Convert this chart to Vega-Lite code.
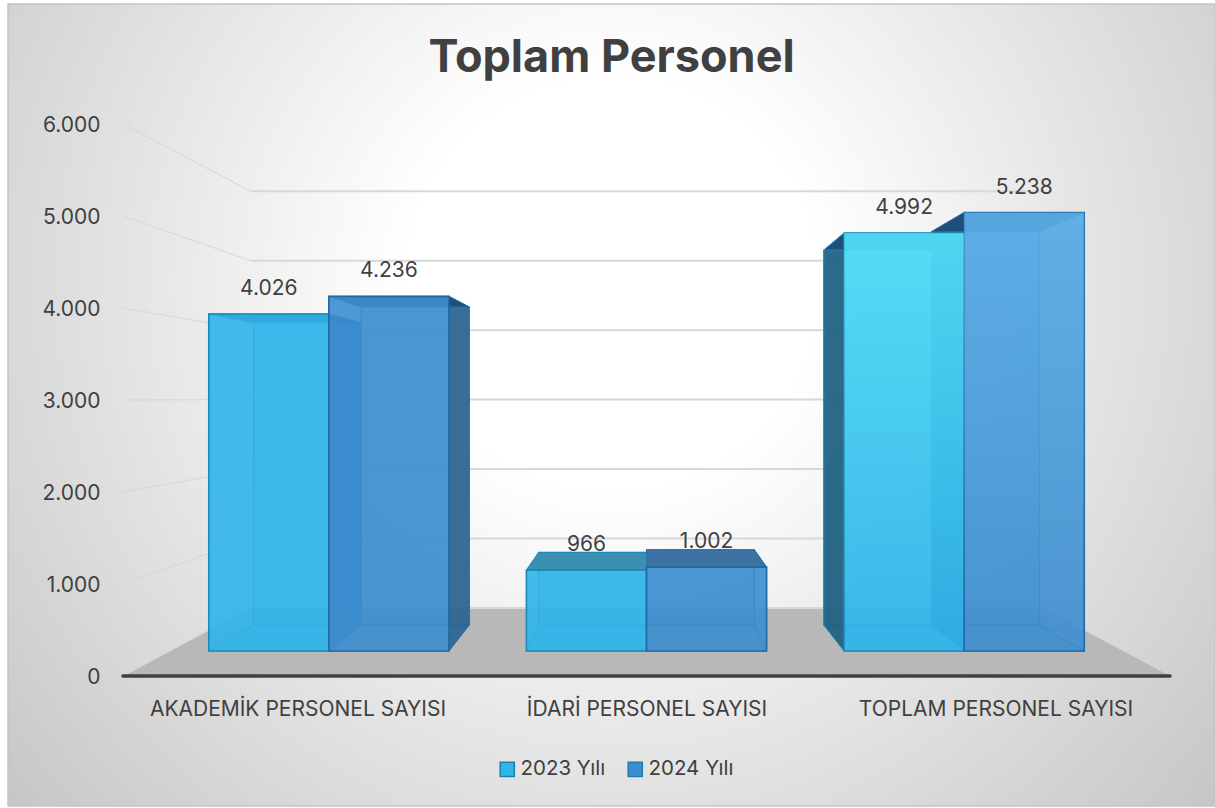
{
"$schema":"https://vega.github.io/schema/vega-lite/v6.json",
"width":1207,"height":802,"autosize":"none",
"padding":{"left":8,"top":4,"right":0,"bottom":2},
"background":"#ffffff",
"config":{"locale":{"number":{"decimal":",","thousands":".","grouping":[3],"currency":["","₺"]}},"font":"Inter"},
"view":{"fill":{"gradient":"radial","x1":0.5,"y1":0.4,"r1":0,"x2":0.5,"y2":0.4,"r2":0.85,"stops":[{"offset":0,"color":"#ffffff"},{"offset":0.2,"color":"#ffffff"},{"offset":1,"color":"#b0b0b0"}]},"stroke":"#c4c4c4","strokeWidth":1.5},
"title":{"text":"Toplam Personel","fontSize":45,"fontWeight":"bold","font":"Inter","color":"#404040","anchor":"middle","offset":-113,"baseline":"alphabetic"},
"datasets":{
"grid":[{"tick":0},{"tick":1000},{"tick":2000},{"tick":3000},{"tick":4000},{"tick":5000},{"tick":6000}]
},
"data":{"values":[
{"category":"AKADEMİK PERSONEL SAYISI","series":"2023 Yılı","value":4026},
{"category":"AKADEMİK PERSONEL SAYISI","series":"2024 Yılı","value":4236},
{"category":"İDARİ PERSONEL SAYISI","series":"2023 Yılı","value":966},
{"category":"İDARİ PERSONEL SAYISI","series":"2024 Yılı","value":1002},
{"category":"TOPLAM PERSONEL SAYISI","series":"2023 Yılı","value":4992},
{"category":"TOPLAM PERSONEL SAYISI","series":"2024 Yılı","value":5238}
]},
"transform":[
{"calculate":"indexof(['AKADEMİK PERSONEL SAYISI','İDARİ PERSONEL SAYISI','TOPLAM PERSONEL SAYISI'],datum.category)","as":"c"},
{"calculate":"datum.series=='2024 Yılı'?1:0","as":"s"},
{"calculate":"[0.368,0.75]","as":"Ds"},
{"flatten":["Ds"],"as":["D"]},
{"calculate":"datum.c+(datum.s-1)*0.378","as":"xl"},
{"calculate":"1+(datum.xl-1)*(1-0.244*datum.D)","as":"xL"},
{"calculate":"1+(datum.xl+0.378-1)*(1-0.244*datum.D)","as":"xR"},
{"calculate":"(datum.xL+datum.xR)/2","as":"xM"},
{"calculate":"739*datum.D+datum.value*(1-0.245*datum.D)","as":"yT"},
{"calculate":"739*datum.D","as":"yB"},
{"calculate":"datum.category+datum.series","as":"bar"}
],
"resolve":{"scale":{"fill":"independent"}},
"layer":[
{"data":{"name":"grid"},
 "transform":[{"filter":"datum.tick==0"},{"calculate":"[0,1]","as":"Ds"},{"flatten":["Ds"],"as":["D"]},
  {"calculate":"1-1.5*(1-0.244*datum.D)","as":"xL"},{"calculate":"1+1.5*(1-0.244*datum.D)","as":"xR"},{"calculate":"739*datum.D","as":"yy"}],
 "mark":{"type":"area","orient":"horizontal","fill":"#b8b8b8"},
 "encoding":{
  "y":{"field":"yy","type":"quantitative","scale":{"domain":[-1413,7304],"nice":false,"zero":false},"axis":{"values":[0,1000,2000,3000,4000,5000,6000],"labelExpr":"format(datum.value,',')","title":null,"domain":false,"ticks":false,"grid":false,"offset":-92,"labelPadding":0,"labelOffset":2,"labelFontSize":21,"labelFont":"Inter","labelColor":"#404040","zindex":1}},
  "x":{"field":"xL","type":"quantitative","scale":{"domain":[-0.8295,2.6289],"nice":false,"zero":false},"axis":{"values":[0,1,2],"labelExpr":"['AKADEMİK PERSONEL SAYISI','İDARİ PERSONEL SAYISI','TOPLAM PERSONEL SAYISI'][datum.value]","title":null,"domain":false,"ticks":false,"grid":false,"offset":-108,"labelPadding":0,"labelFontSize":21,"labelLimit":500,"labelFont":"Inter","labelColor":"#404040","labelOverlap":false,"labelFlush":false,"zindex":1}},
  "x2":{"field":"xR"}}},
{"data":{"name":"grid"},
 "transform":[{"calculate":"1-1.5*(1-0.244)","as":"xL"},{"calculate":"1+1.5*(1-0.244)","as":"xR"},{"calculate":"739+datum.tick*(1-0.245)","as":"yy"}],
 "mark":{"type":"rule","stroke":"#d8d8d8","strokeWidth":2},
 "encoding":{
  "y":{"field":"yy","type":"quantitative"},
  "x":{"field":"xL","type":"quantitative"},
  "x2":{"field":"xR"}}},
{"data":{"name":"grid"},
 "transform":[{"calculate":"[0,1]","as":"Ds"},{"flatten":["Ds"],"as":["D"]},
  {"calculate":"1-1.5*(1-0.244*datum.D)","as":"xL"},{"calculate":"739*datum.D+datum.tick*(1-0.245*datum.D)","as":"yy"}],
 "mark":{"type":"line","stroke":"#d6d6d6","strokeWidth":1},
 "encoding":{
  "y":{"field":"yy","type":"quantitative"},
  "x":{"field":"xL","type":"quantitative"},
  "detail":{"field":"tick"}}},
{"data":{"name":"grid"},
 "transform":[{"filter":"datum.tick==0"},{"calculate":"-0.5","as":"xL"},{"calculate":"2.5","as":"xR"}],
 "mark":{"type":"rule","stroke":"#404040","strokeWidth":3.5,"strokeCap":"round"},
 "encoding":{
  "y":{"field":"tick","type":"quantitative"},
  "x":{"field":"xL","type":"quantitative"},
  "x2":{"field":"xR"}}},
{"transform":[{"filter":"datum.D>0.5"}],
 "mark":{"type":"rect","fillOpacity":0.3,"strokeWidth":1.2},
 "encoding":{
  "x":{"field":"xL","type":"quantitative"},"x2":{"field":"xR"},
  "y":{"field":"yT","type":"quantitative"},"y2":{"field":"yB"},
  "fill":{"condition":{"test":"datum.s==0","value":"#22a8e4"},"value":"#2a7cc0"},
  "stroke":{"condition":{"test":"datum.s==0","value":"#1c93c6"},"value":"#2470ad"}}},
{"mark":{"type":"area","orient":"horizontal","fillOpacity":0.25,"strokeWidth":1},
 "encoding":{
  "y":{"field":"yB","type":"quantitative"},
  "x":{"field":"xL","type":"quantitative"},"x2":{"field":"xR"},
  "detail":{"field":"bar"},
  "fill":{"condition":{"test":"datum.s==0","value":"#22a8e4"},"value":"#2a7cc0"},
  "stroke":{"condition":{"test":"datum.s==0","value":"#1c93c6"},"value":"#2470ad"}}},
{"mark":{"type":"area","orient":"vertical","strokeWidth":1},
 "encoding":{
  "x":{"field":"xL","type":"quantitative"},
  "y":{"field":"yT","type":"quantitative"},"y2":{"field":"yB"},
  "detail":{"field":"bar"},
  "fill":{"condition":{"test":"datum.c==2&&datum.s==0","value":"#1f5f7e"},"value":"#2a6d9e"},
  "fillOpacity":{"condition":{"test":"datum.c==2","value":0.92},"value":0.06},
  "stroke":{"condition":{"test":"datum.s==0","value":"#1c8cbc"},"value":"#2470ad"}}},
{"mark":{"type":"area","orient":"vertical","strokeWidth":1},
 "encoding":{
  "x":{"field":"xR","type":"quantitative"},
  "y":{"field":"yT","type":"quantitative"},"y2":{"field":"yB"},
  "detail":{"field":"bar"},
  "fill":{"condition":{"test":"datum.s==0","value":"#1676b8"},"value":"#2d6590"},
  "fillOpacity":{"condition":{"test":"datum.c==0","value":0.92},"value":0.06},
  "stroke":{"condition":{"test":"datum.s==0","value":"#1c8cbc"},"value":"#2470ad"}}},
{"mark":{"type":"area","orient":"horizontal","strokeWidth":1},
 "encoding":{
  "y":{"field":"yT","type":"quantitative"},
  "x":{"field":"xL","type":"quantitative"},"x2":{"field":"xR"},
  "detail":{"field":"bar"},
  "fill":{"condition":[{"test":"datum.c==1&&datum.s==0","value":"#3b90b2"},{"test":"datum.c==1","value":"#3d73a2"}],"value":"#1f4f77"},
  "stroke":{"condition":{"test":"datum.s==0","value":"#1c8cbc"},"value":"#2470ad"}}},
{"transform":[{"filter":"datum.D<0.5"}],
 "mark":{"type":"rect","fillOpacity":0.9,"strokeWidth":1.6},
 "encoding":{
  "x":{"field":"xL","type":"quantitative"},"x2":{"field":"xR"},
  "y":{"field":"yT","type":"quantitative"},"y2":{"field":"yB"},
  "fill":{"field":"series","type":"nominal","scale":{"domain":["2023 Yılı","2024 Yılı"],"range":["#30b4ea","#3e8ecf"]},
   "legend":{"orient":"none","legendX":489,"legendY":755,"direction":"horizontal","title":null,"symbolType":"square","symbolSize":200,"symbolStrokeColor":"#1c7fb0","symbolStrokeWidth":1.5,"symbolOpacity":1,"labelFontSize":20.5,"labelFont":"Inter","labelColor":"#404040","columnPadding":19,"labelOffset":3}},
  "stroke":{"condition":{"test":"datum.s==0","value":"#1a8cbc"},"value":"#1f6aa5"}}},
{"transform":[{"filter":"datum.D<0.5&&datum.c==2&&datum.s==0"}],
 "mark":{"type":"rect","fill":{"gradient":"linear","x1":0,"y1":0,"x2":0,"y2":1,"stops":[{"offset":0,"color":"rgba(110,255,255,0.5)"},{"offset":0.95,"color":"rgba(110,255,255,0)"}]}},
 "encoding":{
  "x":{"field":"xL","type":"quantitative"},"x2":{"field":"xR"},
  "y":{"field":"yT","type":"quantitative"},"y2":{"field":"yB"}}},
{"transform":[{"filter":"datum.D<0.5&&datum.c==2&&datum.s==1"}],
 "mark":{"type":"rect","fill":{"gradient":"linear","x1":0,"y1":0,"x2":0,"y2":1,"stops":[{"offset":0,"color":"rgba(120,205,255,0.45)"},{"offset":0.95,"color":"rgba(120,205,255,0)"}]}},
 "encoding":{
  "x":{"field":"xL","type":"quantitative"},"x2":{"field":"xR"},
  "y":{"field":"yT","type":"quantitative"},"y2":{"field":"yB"}}},
{"transform":[{"filter":"datum.D<0.5"}],
 "mark":{"type":"text","dy":-25,"baseline":"middle","align":"center","fontSize":21,"font":"Inter","fill":"#404040"},
 "encoding":{
  "x":{"field":"xM","type":"quantitative"},
  "y":{"field":"yT","type":"quantitative"},
  "text":{"field":"value","type":"quantitative","format":","}}}
]
}
